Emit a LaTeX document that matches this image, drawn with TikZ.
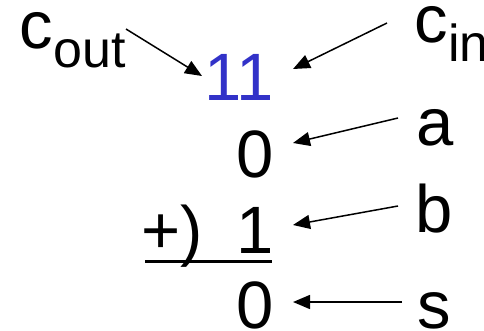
\documentclass[tikz,border=0pt]{standalone}
\usepackage{fontspec}
\setmainfont{Liberation Sans}
\usetikzlibrary{arrows.meta}
\definecolor{carryblue}{RGB}{50,50,200}
\newcommand{\subtxt}[1]{\raisebox{-19pt}{\fontsize{52}{60}\selectfont #1}}

\begin{document}
\begin{tikzpicture}[
  x=1pt, y=-1pt,
  digit/.style={inner sep=0pt, anchor=base east, font=\fontsize{67}{80}\selectfont},
  lbl/.style={inner sep=0pt, anchor=base west, font=\fontsize{67}{80}\selectfont},
  arr/.style={-{Triangle[length=17pt, width=14pt]}, line width=1.5pt}
]
  \useasboundingbox (0,0) rectangle (484,330);

  % column of the sum
  \node[digit, text=carryblue] (carry) at (274,100) {11};
  \node[digit] (a0) at (274,177) {0};
  \node[digit] (b1) at (274,253) {1};
  \node[lbl] (plus) at (141,253) {+)};
  \node[digit] (s0) at (274,328.5) {0};

  % labels
  \node[lbl] (cout) at (19.5,48) {c\subtxt{out}};
  \node[lbl] (cin) at (414.5,42) {c\subtxt{in}};
  \node[lbl] (la) at (416.5,145) {a};
  \node[lbl] (lb) at (415.5,232) {b};
  \node[lbl] (ls) at (417,328) {s};

  % arrow ends
  \coordinate (cout-t) at (126,29);  \coordinate (cout-h) at (202,76);
  \coordinate (cin-t) at (387,23);   \coordinate (cin-h) at (293,69);
  \coordinate (a-t) at (398,118);    \coordinate (a-h) at (293,143);
  \coordinate (b-t) at (398,206);    \coordinate (b-h) at (293,225);
  \coordinate (s-t) at (402,302);    \coordinate (s-h) at (293,302);
  \coordinate (rule-l) at (145,261.5); \coordinate (rule-r) at (272,261.5);

  \draw[arr] (cout-t) -- (cout-h);
  \draw[arr] (cin-t) -- (cin-h);
  \draw[arr] (a-t) -- (a-h);
  \draw[arr] (b-t) -- (b-h);
  \draw[arr] (s-t) -- (s-h);
  \draw[line width=2.5pt] (rule-l) -- (rule-r);
\end{tikzpicture}
\end{document}
